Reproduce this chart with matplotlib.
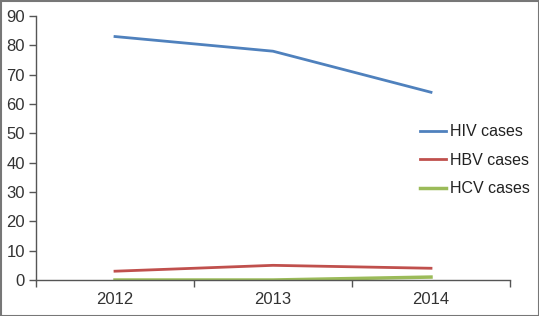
import matplotlib
matplotlib.use("Agg")
import matplotlib.pyplot as plt
from matplotlib.ticker import FixedLocator, NullFormatter
from matplotlib.patches import Rectangle

plt.rcParams['font.family'] = ['Liberation Sans', 'DejaVu Sans']

years = ["2012", "2013", "2014"]
hiv = [83, 78, 64]
hbv = [3, 5, 4]
hcv = [0, 0, 1]

fig = plt.figure(figsize=(5.39, 3.16), dpi=100)
ax = fig.add_axes([36/539, 36/316, (510-36)/539, (280-16)/316])
x = range(len(years))
ax.plot(x, hiv, color='#4F81BD', lw=2.0, label='HIV cases')
ax.plot(x, hbv, color='#C0504D', lw=2.0, label='HBV cases')
ax.plot(x, hcv, color='#9BBB59', lw=2.5, label='HCV cases')

ax.set_xlim(-0.5, 2.5)
ax.set_ylim(0, 90)
ax.set_yticks(range(0, 91, 10))
ax.set_xticks(list(x))
ax.set_xticklabels(years)
ax.tick_params(axis='x', which='major', length=0, pad=9, labelsize=12, colors='#333333')
ax.xaxis.set_minor_locator(FixedLocator([-0.5, 0.5, 1.5, 2.5]))
ax.xaxis.set_minor_formatter(NullFormatter())
ax.tick_params(axis='x', which='minor', length=5, width=1, color='#555555')
ax.tick_params(axis='y', length=5, width=1, color='#555555', labelsize=12, labelcolor='#333333', pad=3)
for s in ['top', 'right']:
    ax.spines[s].set_visible(False)
for s in ['left', 'bottom']:
    ax.spines[s].set_color('#555555')
    ax.spines[s].set_linewidth(1)

leg = ax.legend(loc='upper left', bbox_to_anchor=(0.78, 0.645), frameon=False,
                fontsize=11.5, handlelength=1.6, handletextpad=0.3, labelspacing=0.85)
for t in leg.get_texts():
    t.set_color('#222222')

fig.patches.append(Rectangle((0.5/539, 0.5/316), 1 - 1/539, 1 - 1/316, transform=fig.transFigure,
                             fill=False, edgecolor='#777777', lw=1.5))
fig.savefig('out.png', dpi=100)
